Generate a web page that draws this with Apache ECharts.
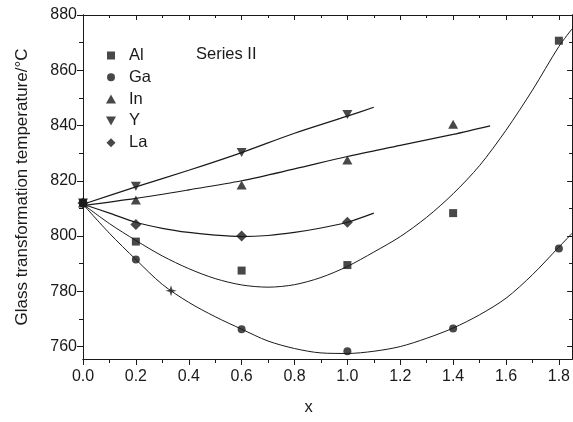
<!DOCTYPE html>
<html>
<head>
<meta charset="utf-8">
<script src="https://cdn.jsdelivr.net/npm/echarts@6/dist/echarts.min.js"></script>
<style>html,body{margin:0;padding:0;background:#fff}#c{width:573px;height:422px}</style>
</head>
<body>
<div id="c"></div>
<script>
// ---- data ----
const alX = [0, 0.2, 0.6, 1.0, 1.4, 1.8];
const alY = [812, 798, 787.5, 789.5, 808.3, 870.7];
const gaX = [0, 0.2, 0.6, 1.0, 1.4, 1.8];
const gaY = [812, 791.5, 766.3, 758.3, 766.5, 795.5];
const inX = [0, 0.2, 0.6, 1.0, 1.4];
const inY = [812, 813, 818.5, 827.5, 840.5];
const yX = [0, 0.2, 0.6, 1.0];
const yY = [812, 818, 830.2, 844];
const laX = [0, 0.2, 0.6, 1.0];
const laY = [812, 804.2, 800, 805];
const extraX = [0.333];
const extraY = [780.2];

// fitted curves
const alFitX = [0, 0.1, 0.2, 0.3, 0.4, 0.5, 0.6, 0.7, 0.8, 0.9, 1.0, 1.1, 1.2, 1.3, 1.4, 1.5, 1.6, 1.7, 1.8, 1.85];
const alFitY = [811.5, 804.5, 798.4, 792.8, 788.2, 784.6, 782.3, 781.5, 782.4, 785.0, 789.0, 794.2, 799.8, 806.8, 815.3, 825.5, 838.3, 852.8, 868.6, 875];
const gaFitX = [0, 0.1, 0.2, 0.3, 0.4, 0.5, 0.6, 0.7, 0.8, 0.9, 1.0, 1.1, 1.2, 1.3, 1.4, 1.5, 1.6, 1.7, 1.8, 1.85];
const gaFitY = [811.5, 801, 791.5, 782.5, 776, 770.8, 766.3, 762, 759.3, 757.7, 757.5, 758.3, 760, 763, 766.7, 771.5, 777.5, 786, 796, 801];
const inFitX = [0, 0.2, 0.4, 0.6, 0.8, 1.0, 1.2, 1.4, 1.54];
const inFitY = [811, 813.6, 816.7, 820, 824.3, 828.8, 832.8, 836.8, 839.9];
const yFitX = [0, 0.2, 0.4, 0.6, 0.8, 1.0, 1.1];
const yFitY = [811.5, 817.8, 823.8, 830.2, 837.2, 843.4, 846.6];
const laFitX = [0, 0.1, 0.2, 0.3, 0.4, 0.5, 0.6, 0.7, 0.8, 0.9, 1.0, 1.1];
const laFitY = [811.5, 808.3, 805.0, 802.8, 801.3, 800.3, 799.8, 800.2, 801.3, 802.9, 805.0, 808.3];

// axis ticks
const xMajor = [0, 0.2, 0.4, 0.6, 0.8, 1.0, 1.2, 1.4, 1.6, 1.8];
const xMinor = [0.1, 0.3, 0.5, 0.7, 0.9, 1.1, 1.3, 1.5, 1.7];
const yMajor = [760, 780, 800, 820, 840, 860, 880];
const yMinor = [770, 790, 810, 830, 850, 870];

const zip = (a, b) => a.map((v, i) => [v, b[i]]);
const INK = '#1a1a1a';
const FONT = 'Liberation Sans, Arial, sans-serif';
const XMIN = 0, XMAX = 1.85, YMIN = 755.5, YMAX = 880;

// legend icons drawn in a 24x9 box (marker at the left, room before the text)
const BOX = 'M0,0M24,9';
const ICONS = {
  Al: 'path://' + BOX + 'M7,0.5h8v8h-8Z',
  Ga: 'path://' + BOX + 'M7,4.5a4,4 0 1,0 8,0a4,4 0 1,0 -8,0Z',
  In: 'path://' + BOX + 'M6,9L11,0L16,9Z',
  Y: 'path://' + BOX + 'M6,0L16,0L11,9Z',
  La: 'path://' + BOX + 'M11,0L15.5,4.5L11,9L6.5,4.5Z'
};

const baseAxis = (extra) => Object.assign({
  type: 'value', min: XMIN, max: XMAX,
  splitLine: {show: false},
  axisLine: {show: true, onZero: false, lineStyle: {color: INK, width: 1}},
  axisLabel: {show: false},
  axisTick: {show: false}
}, extra);

const chart = echarts.init(document.getElementById('c'), null, {renderer: 'canvas'});
chart.setOption({
  animation: false,
  backgroundColor: '#fff',
  grid: {left: 83, top: 15, right: 0, bottom: 63, containLabel: false},
  title: {
    text: 'Series II', left: 191, top: 41,
    textStyle: {fontFamily: FONT, fontSize: 16.5, fontWeight: 'normal', color: INK}
  },
  legend: {
    data: ['Al', 'Ga', 'In', 'Y', 'La'].map(n => ({name: n, icon: ICONS[n]})),
    orient: 'vertical', left: 95, top: 42,
    itemWidth: 24, itemHeight: 9, itemGap: 4.8,
    textStyle: {fontFamily: FONT, fontSize: 16.5, color: INK, lineHeight: 16}
  },
  xAxis: [
    baseAxis({
      position: 'bottom',
      name: 'x', nameLocation: 'middle', nameGap: 40,
      nameTextStyle: {fontFamily: FONT, fontSize: 16.5, color: INK, padding: [0, 38, 0, 0]},
      axisLabel: {show: true, customValues: xMajor, formatter: v => v.toFixed(1),
        fontFamily: FONT, fontSize: 16, color: INK, margin: 10},
      axisTick: {show: true, customValues: xMajor, inside: false, length: 6, lineStyle: {color: INK}}
    }),
    baseAxis({
      position: 'bottom',
      axisTick: {show: true, customValues: xMinor, inside: false, length: 4, lineStyle: {color: INK}}
    }),
    baseAxis({
      position: 'top',
      axisTick: {show: true, customValues: xMajor, inside: true, length: 5, lineStyle: {color: INK}}
    }),
    baseAxis({
      position: 'top',
      axisTick: {show: true, customValues: xMinor, inside: true, length: 3, lineStyle: {color: INK}}
    })
  ],
  yAxis: [
    baseAxis({
      min: YMIN, max: YMAX, position: 'left',
      name: 'Glass transformation temperature/°C', nameLocation: 'middle', nameGap: 52.5,
      nameTextStyle: {fontFamily: FONT, fontSize: 17, color: INK},
      axisLabel: {show: true, customValues: yMajor, fontFamily: FONT, fontSize: 16, color: INK, margin: 6},
      axisTick: {show: true, customValues: yMajor, inside: false, length: 6, lineStyle: {color: INK}}
    }),
    baseAxis({
      min: YMIN, max: YMAX, position: 'left',
      axisTick: {show: true, customValues: yMinor, inside: false, length: 4, lineStyle: {color: INK}}
    }),
    baseAxis({
      min: YMIN, max: YMAX, position: 'right',
      axisTick: {show: true, customValues: yMajor, inside: true, length: 5, lineStyle: {color: INK}}
    }),
    baseAxis({
      min: YMIN, max: YMAX, position: 'right',
      axisTick: {show: true, customValues: yMinor, inside: true, length: 3, lineStyle: {color: INK}}
    })
  ],
  series: [
    {name: 'Al fit', type: 'line', data: zip(alFitX, alFitY), smooth: 0.3, showSymbol: false, lineStyle: {color: INK, width: 1}, z: 1},
    {name: 'Ga fit', type: 'line', data: zip(gaFitX, gaFitY), smooth: 0.3, showSymbol: false, lineStyle: {color: INK, width: 1}, z: 1},
    {name: 'In fit', type: 'line', data: zip(inFitX, inFitY), smooth: 0.3, showSymbol: false, lineStyle: {color: INK, width: 1.2}, z: 1},
    {name: 'Y fit', type: 'line', data: zip(yFitX, yFitY), smooth: 0.3, showSymbol: false, lineStyle: {color: INK, width: 1.2}, z: 1},
    {name: 'La fit', type: 'line', data: zip(laFitX, laFitY), smooth: 0.3, showSymbol: false, lineStyle: {color: INK, width: 1.2}, z: 1},
    {name: 'La', type: 'scatter', data: zip(laX, laY), symbol: 'diamond', symbolSize: [11, 11], itemStyle: {color: INK}, z: 3},
    {name: 'Y', type: 'scatter', data: zip(yX, yY), symbol: 'path://M0,0L10,0L5,9Z', symbolSize: [10, 9], itemStyle: {color: INK}, z: 3},
    {name: 'In', type: 'scatter', data: zip(inX, inY), symbol: 'triangle', symbolSize: [10, 9], itemStyle: {color: INK}, z: 3},
    {name: 'Ga', type: 'scatter', data: zip(gaX, gaY), symbol: 'circle', symbolSize: 8, itemStyle: {color: INK}, z: 3},
    {name: 'Ga*', type: 'scatter', data: zip(extraX, extraY), symbol: 'path://M5,0L6.2,3.8L10,5L6.2,6.2L5,10L3.8,6.2L0,5L3.8,3.8Z', symbolSize: 11, itemStyle: {color: INK}, z: 3},
    {name: 'Al', type: 'scatter', data: zip(alX, alY), symbol: 'rect', symbolSize: 8, itemStyle: {color: INK}, z: 4}
  ]
});
</script>
</body>
</html>
